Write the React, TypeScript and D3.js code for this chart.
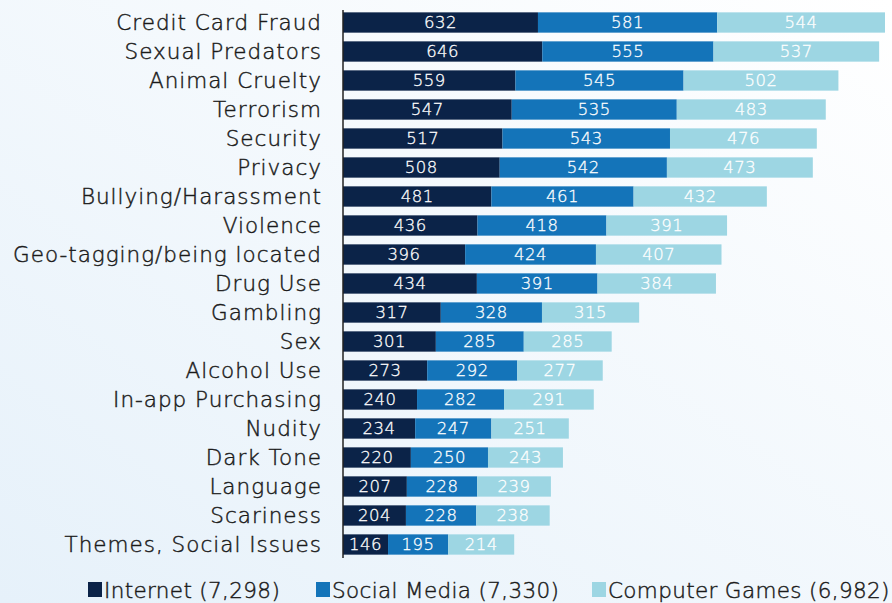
import React from "react";
import * as d3 from "d3";

const categories = [
  "Credit Card Fraud", "Sexual Predators", "Animal Cruelty", "Terrorism", "Security", "Privacy",
  "Bullying/Harassment", "Violence", "Geo-tagging/being located", "Drug Use", "Gambling", "Sex",
  "Alcohol Use", "In-app Purchasing", "Nudity", "Dark Tone", "Language", "Scariness", "Themes, Social Issues",
];
const internet = [632, 646, 559, 547, 517, 508, 481, 436, 396, 434, 317, 301, 273, 240, 234, 220, 207, 204, 146];
const socialMedia = [581, 555, 545, 535, 543, 542, 461, 418, 424, 391, 328, 285, 292, 282, 247, 250, 228, 228, 195];
const computerGames = [544, 537, 502, 483, 476, 473, 432, 391, 407, 384, 315, 285, 277, 291, 251, 243, 239, 238, 214];
const seriesNames = ["Internet (7,298)", "Social Media (7,330)", "Computer Games (6,982)"];
const colors = ["#0b2348", "#1474b9", "#9dd6e3"];

const W = 892, H = 603;
const FONT = "'DejaVu Sans', sans-serif";
const INK = "#1a1a1a";

export default function App() {
  const series = [internet, socialMedia, computerGames];
  const rows = categories.map((c, i) => ({ c, v: series.map((s) => s[i]) }));
  const x = d3.scaleLinear().domain([0, 1757]).range([343, 885]);
  const y = d3.scaleBand().domain(categories).range([8, 559]).paddingInner(0.3).paddingOuter(0.15);
  const legendX = [88, 316, 592];
  return (
    <svg width={W} height={H} style={{ position: "absolute", left: 0, top: 0, display: "block" }} fontFamily={FONT} fontWeight={200}>
      <defs>
        <linearGradient id="bg" x1="0" y1="1" x2="1" y2="0">
          <stop offset="0" stopColor="#e6f1fa" />
          <stop offset="1" stopColor="#ffffff" />
        </linearGradient>
      </defs>
      <rect width={W} height={H} fill="url(#bg)" />
      {rows.map((r) => {
        let acc = 0;
        const yy = y(r.c)!;
        return (
          <g key={r.c}>
            <text x={322} y={yy + y.bandwidth() / 2} dy="0.36em" textAnchor="end" fontSize={21.5} letterSpacing={1}
              fill={INK} stroke={INK} strokeWidth={0.45}>
              {r.c}
            </text>
            {r.v.map((v, k) => {
              const x0 = x(acc);
              acc += v;
              const x1 = x(acc);
              return (
                <g key={k}>
                  <rect x={x0} y={yy} width={x1 - x0} height={y.bandwidth()} fill={colors[k]} />
                  <text x={(x0 + x1) / 2} y={yy + y.bandwidth() / 2} dy="0.36em" textAnchor="middle" fontSize={16.5}
                    letterSpacing={0.5} fill="#fff" stroke="#fff" strokeWidth={0.3}>
                    {v}
                  </text>
                </g>
              );
            })}
          </g>
        );
      })}
      <line x1={x(0)} x2={x(0)} y1={10} y2={558} stroke="#222" strokeWidth={1.5} />
      {seriesNames.map((n, k) => (
        <g key={n}>
          <rect x={legendX[k]} y={582} width={14} height={15} fill={colors[k]} />
          <text x={legendX[k] + 16} y={590} dy="0.36em" fontSize={21.5} letterSpacing={0.35}
            fill={INK} stroke={INK} strokeWidth={0.45}>{n}</text>
        </g>
      ))}
    </svg>
  );
}
